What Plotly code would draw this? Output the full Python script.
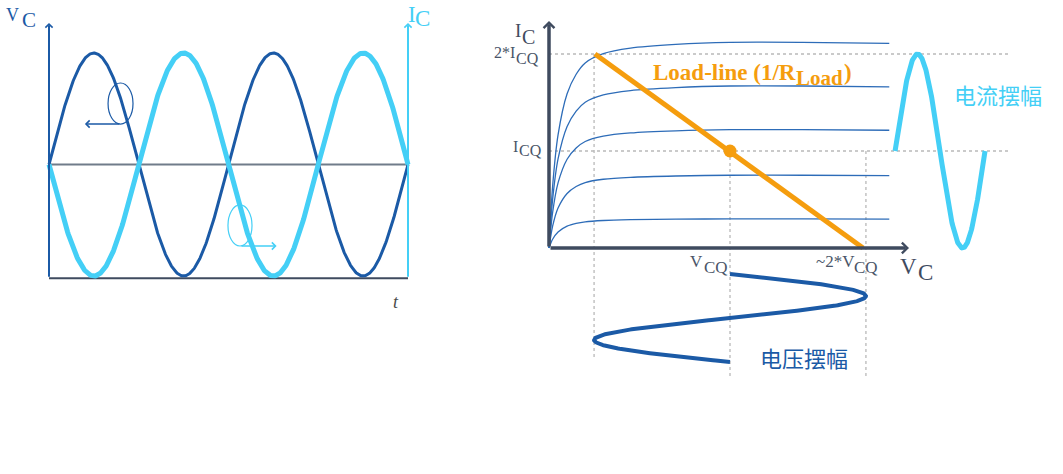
import numpy as np
import plotly.graph_objects as go

W, H = 1063, 474
SERIF = "Liberation Serif"
CJK = "Noto Sans CJK SC"

DARK_BLUE = "#1b5aa6"
LIGHT_BLUE = "#44cff6"
AXIS_GRAY = "#3f4b5f"
MID_GRAY = "#707c8a"
LABEL_GRAY = "#4a5568"
ORANGE = "#f59d0e"
CURVE_BLUE = "#2d6cb8"
DASH_GRAY = "#b9b9b9"

# ---------------- left panel data (time in cycles, normalised amplitude) -------------
cycles = 2.0
vc_amplitude = 1.0
ic_amplitude = 1.0
left_axis_top = 1.27
left_axis_bottom = -1.02
ellipse_vc = [0.329, 0.468, 0.363, 0.731]      # x0, x1, y0, y1
arrow_vc = [0.401, 0.200, 0.363]                # x_tail, x_head, y
ellipse_ic = [0.997, 1.131, -0.731, -0.363]
arrow_ic = [1.064, 1.268, -0.731]

# ---------------- right panel data (V in units of VCQ, I in units of ICQ) ------------
curve_levels = [0.30, 0.75, 1.22, 1.67, 2.12]
curve_v = [0, 0.02, 0.05, 0.10, 0.15, 0.20, 0.30, 0.45, 0.70, 1.00, 1.40, 1.88]
curve_shape = [0, 0.30, 0.55, 0.75, 0.845, 0.90, 0.945, 0.972, 0.99, 1.0, 1.0, 0.995]
loadline_v = [0.254, 1.735]
loadline_i = [2.0, 0.0]
vcq, icq = 1.0, 1.0
v_swing = 0.751          # voltage amplitude
i_swing = 1.0            # current amplitude
i_wave_start, i_wave_period = 1.912, 0.497     # along V axis
v_wave_start, v_wave_period = -0.268, 0.907    # along I axis (downwards)
v_axis_end, i_axis_end = 1.989, 2.34
h_dash_end = 2.55
v_dash_bottom = [-1.124, -1.32, -1.32]

# ---------------- pixel anchors for the two coordinate systems (layout) -------------
L_X0, L_PX_PER = 49, 179.5
L_Y0, L_PY_PER = 164.5, 111.5
R_X0, R_PX_PER = 549, 181.0
R_Y0, R_PY_PER = 248, 97.0

left_xrange = [-L_X0 / L_PX_PER, (W - L_X0) / L_PX_PER]
left_yrange = [(L_Y0 - H) / L_PY_PER, L_Y0 / L_PY_PER]
right_xrange = [-R_X0 / R_PX_PER, (W - R_X0) / R_PX_PER]
right_yrange = [(R_Y0 - H) / R_PY_PER, R_Y0 / R_PY_PER]

fig = go.Figure()

# ---------------- left panel ----------------
t = np.linspace(0, cycles, 600)
fig.add_trace(go.Scatter(x=[0, cycles], y=[0, 0], mode="lines",
                         line=dict(color=MID_GRAY, width=2), xaxis="x", yaxis="y"))
fig.add_trace(go.Scatter(x=[0, cycles], y=[left_axis_bottom, left_axis_bottom], mode="lines",
                         line=dict(color=AXIS_GRAY, width=2), xaxis="x", yaxis="y"))
fig.add_trace(go.Scatter(x=t, y=vc_amplitude * np.sin(2 * np.pi * t), mode="lines",
                         line=dict(color=DARK_BLUE, width=3), xaxis="x", yaxis="y"))
fig.add_trace(go.Scatter(x=t, y=-ic_amplitude * np.sin(2 * np.pi * t), mode="lines",
                         line=dict(color=LIGHT_BLUE, width=5), xaxis="x", yaxis="y"))

# ---------------- right panel ----------------
# dashed guides
fig.add_trace(go.Scatter(x=[0, h_dash_end], y=[2 * icq, 2 * icq], mode="lines",
                         line=dict(color=DASH_GRAY, width=1.3, dash="3px,3px"), xaxis="x2", yaxis="y2"))
fig.add_trace(go.Scatter(x=[0, h_dash_end], y=[icq, icq], mode="lines",
                         line=dict(color=DASH_GRAY, width=1.3, dash="3px,3px"), xaxis="x2", yaxis="y2"))
for vx, ytop, ybot in zip([vcq - v_swing, vcq, vcq + v_swing], [2 * icq, icq, icq], v_dash_bottom):
    fig.add_trace(go.Scatter(x=[vx, vx], y=[ytop, ybot], mode="lines",
                             line=dict(color=DASH_GRAY, width=1.3, dash="3px,3px"), xaxis="x2", yaxis="y2"))

# characteristic curves
for lvl in curve_levels:
    fig.add_trace(go.Scatter(x=curve_v, y=[lvl * s for s in curve_shape], mode="lines",
                             line=dict(color=CURVE_BLUE, width=1.3, shape="spline", smoothing=0.8),
                             xaxis="x2", yaxis="y2"))

# load line and Q point
fig.add_trace(go.Scatter(x=loadline_v, y=loadline_i, mode="lines",
                         line=dict(color=ORANGE, width=5), xaxis="x2", yaxis="y2"))
fig.add_trace(go.Scatter(x=[vcq], y=[icq], mode="markers",
                         marker=dict(color=ORANGE, size=13), xaxis="x2", yaxis="y2"))

# current swing (time along V direction)
s = np.linspace(0, 1, 300)
fig.add_trace(go.Scatter(x=i_wave_start + s * i_wave_period,
                         y=icq + i_swing * np.sin(2 * np.pi * s), mode="lines",
                         line=dict(color=LIGHT_BLUE, width=5), xaxis="x2", yaxis="y2"))
# voltage swing (time downwards)
fig.add_trace(go.Scatter(x=vcq + v_swing * np.sin(2 * np.pi * s),
                         y=v_wave_start - s * v_wave_period, mode="lines",
                         line=dict(color=DARK_BLUE, width=4), xaxis="x2", yaxis="y2"))


def arrow(xref, yref, xt, yt, xh, yh, color, width, size):
    return dict(x=xh, y=yh, ax=xt, ay=yt, xref=xref, yref=yref, axref=xref, ayref=yref,
                showarrow=True, arrowhead=4, arrowsize=size, arrowwidth=width,
                arrowcolor=color, text="", standoff=0, startstandoff=0)


def lab(text, xpx, ypx, size, color, family=SERIF, xanchor="left"):
    return dict(text=text, x=xpx / W, y=1 - ypx / H, xref="paper", yref="paper",
                xanchor=xanchor, yanchor="middle", showarrow=False, borderpad=0,
                font=dict(family=family, size=size, color=color))


annotations = [
    # left panel axes
    arrow("x", "y", 0, left_axis_bottom, 0, left_axis_top, DARK_BLUE, 2, 0.7),
    arrow("x", "y", cycles, left_axis_bottom, cycles, left_axis_top, LIGHT_BLUE, 2, 0.7),
    # ellipse arrows
    arrow("x", "y", arrow_vc[0], arrow_vc[2], arrow_vc[1], arrow_vc[2], DARK_BLUE, 1.4, 1.0),
    arrow("x", "y", arrow_ic[0], arrow_ic[2], arrow_ic[1], arrow_ic[2], LIGHT_BLUE, 1.4, 1.0),
    # right panel axes
    arrow("x2", "y2", 0, 0, 0, i_axis_end, AXIS_GRAY, 3.5, 0.6),
    arrow("x2", "y2", 0, 0, v_axis_end, 0, AXIS_GRAY, 3.5, 0.6),
    # left labels
    lab("V", 5, 15, 18, DARK_BLUE), lab("C", 21, 19.5, 21, DARK_BLUE),
    lab("I", 407, 15, 23, LIGHT_BLUE), lab("C", 414, 18.5, 23, LIGHT_BLUE),
    lab("<i>t</i>", 392, 302, 18, "#4a4a4a"),
    # right labels
    lab("I", 514, 31, 19, AXIS_GRAY), lab("C", 521, 36.5, 20, AXIS_GRAY),
    lab("2*I", 493, 53, 16, LABEL_GRAY), lab("CQ", 515, 58.5, 16, LABEL_GRAY),
    lab("I", 512, 146, 16, LABEL_GRAY), lab("CQ", 518, 150.5, 16, LABEL_GRAY),
    lab("V", 689, 261, 17, LABEL_GRAY), lab("CQ", 703, 267, 17, LABEL_GRAY),
    lab("~2*V", 815, 261, 17, LABEL_GRAY), lab("CQ", 853, 267, 17, LABEL_GRAY),
    lab("V", 899, 266, 23, AXIS_GRAY), lab("C", 917, 272, 23, AXIS_GRAY),
    lab("<b>Load-line (1/R</b>", 652, 72, 23, ORANGE),
    lab("<b>Load</b>", 795, 78, 21, ORANGE),
    lab("<b>)</b>", 843, 72, 23, ORANGE),
    lab("电流摆幅", 998, 94, 22, LIGHT_BLUE, family=CJK, xanchor="center"),
    lab("电压摆幅", 804, 357, 22, DARK_BLUE, family=CJK, xanchor="center"),
]

shapes = [
    dict(type="circle", xref="x", yref="y", x0=ellipse_vc[0], x1=ellipse_vc[1],
         y0=ellipse_vc[2], y1=ellipse_vc[3], line=dict(color=DARK_BLUE, width=1.2)),
    dict(type="circle", xref="x", yref="y", x0=ellipse_ic[0], x1=ellipse_ic[1],
         y0=ellipse_ic[2], y1=ellipse_ic[3], line=dict(color=LIGHT_BLUE, width=1.2)),
]

hidden = dict(visible=False, showgrid=False, zeroline=False, fixedrange=True)
fig.update_layout(
    width=W, height=H, margin=dict(l=0, r=0, t=0, b=0),
    paper_bgcolor="white", plot_bgcolor="white", showlegend=False, hovermode=False,
    xaxis=dict(domain=[0, 1], range=left_xrange, **hidden),
    yaxis=dict(domain=[0, 1], range=left_yrange, **hidden),
    xaxis2=dict(domain=[0, 1], range=right_xrange, overlaying="x", anchor="y2", **hidden),
    yaxis2=dict(domain=[0, 1], range=right_yrange, overlaying="y", anchor="x2", **hidden),
    annotations=annotations, shapes=shapes,
)

fig.write_html("out.html", config={"displayModeBar": False},
               post_script="document.body.style.margin='0';")
